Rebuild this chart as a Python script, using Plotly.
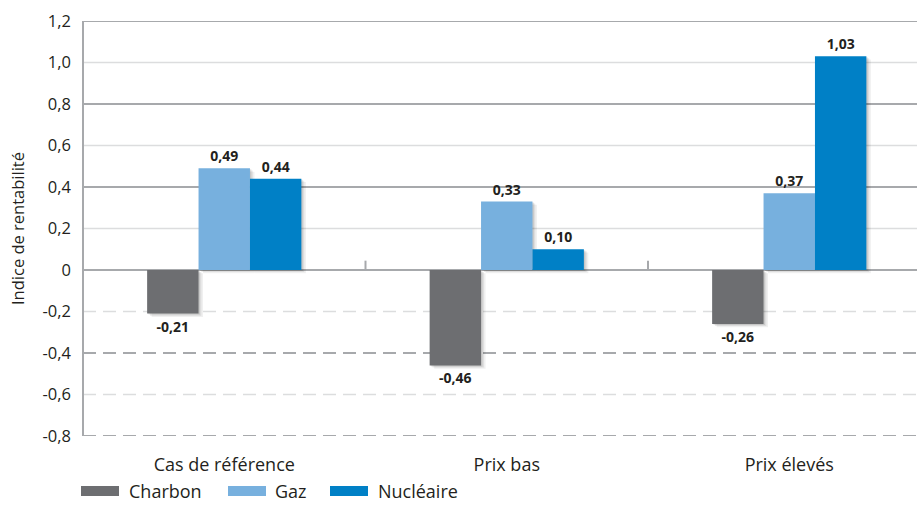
import plotly.graph_objects as go

# Data
scenarios = ["Cas de référence", "Prix bas", "Prix élevés"]
series_names = ["Charbon", "Gaz", "Nucléaire"]
charbon = [-0.21, -0.46, -0.26]
gaz = [0.49, 0.33, 0.37]
nucleaire = [0.44, 0.10, 1.03]
tick_values = [1.2, 1.0, 0.8, 0.6, 0.4, 0.2, 0, -0.2, -0.4, -0.6, -0.8]
tick_labels = ["1,2", "1,0", "0,8", "0,6", "0,4", "0,2", "0", "-0,2", "-0,4", "-0,6", "-0,8"]

colors = ["#6d6e71", "#77b0de", "#0080c6"]
series_values = [charbon, gaz, nucleaire]

FONT = "Open Sans"
TXT = "#231f20"
DARK = "#a7a9ac"
LIGHT = "#dcddde"

BAR_W = 0.182
x_idx = list(range(len(scenarios)))

fig = go.Figure()

# soft drop shadows under the bars
for i, vals in enumerate(series_values):
    off = -1.5 * BAR_W + i * BAR_W
    for dx, dy, a in [(0.016, 0.016, 0.06), (0.010, 0.010, 0.08), (0.005, 0.005, 0.10)]:
        fig.add_trace(go.Bar(
            x=x_idx, y=vals, base=[-dy] * len(vals),
            width=BAR_W, offset=off + dx,
            marker=dict(color=f"rgba(0,0,0,{a})", line=dict(width=0)),
            hoverinfo="skip", showlegend=False,
        ))

# main bars
for i, (name, vals) in enumerate(zip(series_names, series_values)):
    off = -1.5 * BAR_W + i * BAR_W
    fig.add_trace(go.Bar(
        x=x_idx, y=vals, name=name,
        width=BAR_W, offset=off,
        marker=dict(color=colors[i], line=dict(width=0)),
        text=[f"{v:.2f}".replace(".", ",") for v in vals],
        textposition="outside",
        textfont=dict(family=FONT, size=14, color=TXT, weight="bold"),
        cliponaxis=False,
        showlegend=False,
    ))

shapes = []
# horizontal gridlines: solid above zero, dashed below; alternating dark/light
for v in tick_values:
    dark = round(v * 10) % 4 == 0
    dash = "solid" if v >= 0 else "13px,7px"
    shapes.append(dict(
        type="line", xref="paper", yref="y", x0=0, x1=1, y0=v, y1=v,
        line=dict(color=DARK if dark else LIGHT, width=2 if dark else 1.3, dash=dash),
        layer="below",
    ))
# category separator ticks on the zero line
for b in [0.5, 1.5]:
    shapes.append(dict(
        type="line", xref="x", yref="y", x0=b, x1=b, y0=0, y1=0.045,
        line=dict(color=DARK, width=2), layer="below",
    ))
# vertical axis line
shapes.append(dict(
    type="line", xref="paper", yref="paper", x0=0, x1=0, y0=0, y1=1,
    line=dict(color=DARK, width=2), layer="above",
))

# legend drawn as wide swatches with labels
annotations = []
legend_pos = [(81, 127), (228, 273), (330, 376)]
fig_w, fig_h = 921, 515
ml, mr, mt, mb = 83, 4, 21, 79
pw, ph = fig_w - ml - mr, fig_h - mt - mb
leg_y = 491
for (sx, tx), name, c in zip(legend_pos, series_names, colors):
    x0 = (sx - ml) / pw
    x1 = (sx + 38 - ml) / pw
    y0 = (fig_h - mb - (leg_y + 5)) / ph
    y1 = (fig_h - mb - (leg_y - 5)) / ph
    shapes.append(dict(type="rect", xref="paper", yref="paper", x0=x0, x1=x1, y0=y0, y1=y1,
                       fillcolor=c, line=dict(width=0)))
    annotations.append(dict(
        xref="paper", yref="paper", x=(tx - ml) / pw, y=(fig_h - mb - leg_y) / ph,
        text=name, showarrow=False, xanchor="left", yanchor="middle",
        font=dict(family=FONT, size=18, color=TXT),
    ))

fig.update_layout(
    width=fig_w, height=fig_h,
    margin=dict(l=ml, r=mr, t=mt, b=mb),
    paper_bgcolor="white", plot_bgcolor="white",
    barmode="overlay",
    showlegend=False,
    shapes=shapes,
    annotations=annotations,
    xaxis=dict(
        range=[-0.5, -0.5 + pw / 282.5],
        tickvals=x_idx, ticktext=scenarios,
        showgrid=False, zeroline=False, showline=False, ticks="",
        ticklabelstandoff=16,
        tickfont=dict(family=FONT, size=18, color=TXT),
        fixedrange=True,
    ),
    yaxis=dict(
        range=[-0.8, 1.2],
        tickvals=tick_values, ticktext=tick_labels,
        showgrid=False, zeroline=False, showline=False, ticks="",
        ticklabelstandoff=11,
        tickfont=dict(family=FONT, size=16.5, color=TXT),
        title=dict(text="Indice de rentabilité", font=dict(family=FONT, size=16.5, color=TXT), standoff=13),
        fixedrange=True,
    ),
)

fig.write_html("out.html")
